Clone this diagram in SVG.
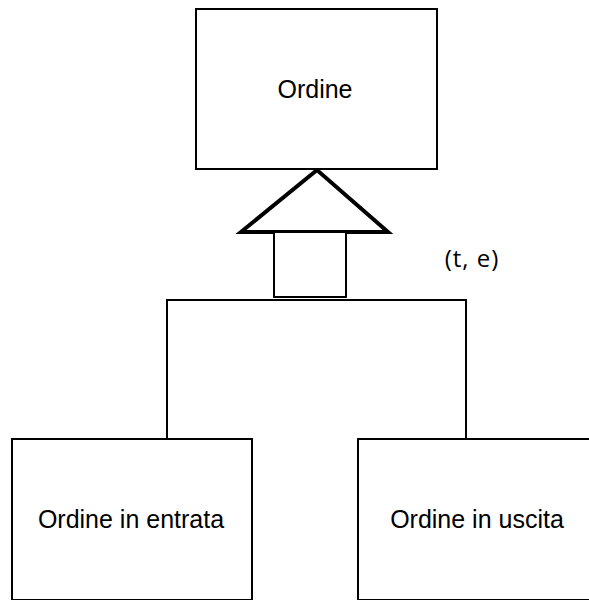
<svg xmlns="http://www.w3.org/2000/svg" width="589" height="600" viewBox="0 0 589 600">
  <style>
    .box { fill: #ffffff; stroke: #000000; stroke-width: 2; }
    .lbl { font-family: "Liberation Sans", Arial, sans-serif; font-size: 25px; fill: #000000; text-anchor: middle; }
    .wire { fill: none; stroke: #000000; stroke-width: 2; }
    .tri { fill: #ffffff; stroke: #000000; stroke-width: 4; stroke-linejoin: miter; }
  </style>
  <rect width="589" height="600" fill="#ffffff"/>

  <!-- generalization connectors -->
  <g id="connectors">
    <polyline class="wire" points="167,439 167,300 466,300 466,439"/>
    <polygon class="tri" points="317,170 241,232 388,232"/>
    <rect class="box" x="274" y="232" width="72" height="65"/>
    <line class="wire" x1="274" y1="297" x2="346" y2="297" stroke-width="3"/>
    <text x="472" y="267" font-family="'Open Sans', sans-serif" font-size="24" letter-spacing="1" text-anchor="middle" fill="#000">(t, e)</text>
  </g>

  <g id="ordine">
    <rect class="box" x="196" y="9" width="241" height="160"/>
    <text class="lbl" x="315" y="98">Ordine</text>
  </g>

  <g id="ordine-entrata">
    <rect class="box" x="12" y="439" width="240" height="161"/>
    <text class="lbl" x="131" y="528">Ordine in entrata</text>
  </g>

  <g id="ordine-uscita">
    <rect class="box" x="358" y="439" width="240" height="161"/>
    <text class="lbl" x="477" y="528">Ordine in uscita</text>
  </g>
</svg>
